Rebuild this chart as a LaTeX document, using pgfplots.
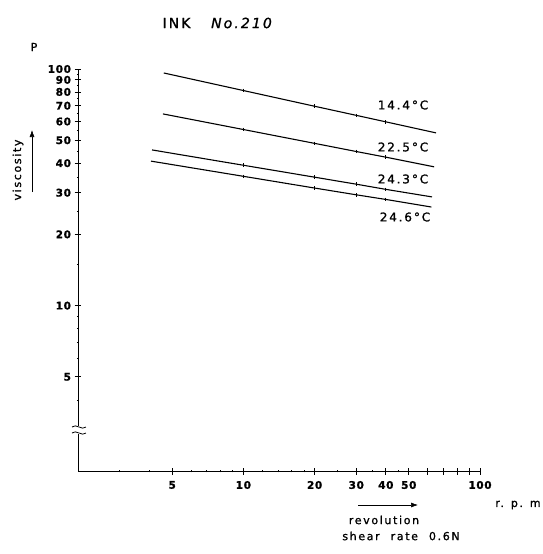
\documentclass[border=0pt]{standalone}
\usepackage{fontspec}
\setmainfont{DejaVu Sans}[LetterSpace=6, FakeBold=1.2]
\newfontfamily\labfont{DejaVu Sans}[LetterSpace=15, FakeBold=1.2]
\usepackage{pgfplots}
\pgfplotsset{compat=1.18}
\usetikzlibrary{arrows.meta}
\begin{document}
\begin{tikzpicture}
\path[use as bounding box] (0pt,0pt) rectangle (542pt,-554pt);
\begin{axis}[at={(78pt,-471pt)}, anchor=south west, scale only axis,
  width=402pt, height=402pt,
  xmode=log, ymode=log, xmin=2, xmax=100, ymin=2, ymax=100,
  axis lines=left, axis line style={-, line width=0.9pt},
  xtick={5,10,20,30,40,50,60,70,80,90,100},
  xticklabels={5,10,20,30,40,50,,,,,100},
  ytick={5,10,20,30,40,50,60,70,80,90,100},
  yticklabels={5,10,20,30,40,50,60,70,80,90,100},
  minor xtick={3,4,6,7,8,9,12,14,16,18,25,35,45},
  minor ytick={4,6,7,8,9,15,25,35,45,55,65,75,85,95},
  tick align=center, major tick length=7pt, minor tick length=2.5pt,
  major tick style={black, line width=0.7pt},
  minor tick style={black, line width=0.5pt},
  /pgf/number format/assume math mode=true,
  ticklabel style={font=\bfseries\fontsize{10.5}{11}\selectfont},
  xticklabel style={yshift=-3pt},
  clip=false,
]
\addplot[black, line width=1.1pt, mark=|, mark size=1.8pt, mark indices={2,3,4,5}]
  coordinates {(4.61,96.2) (10,81.1) (20,69.6) (30,63.7) (40,59.8) (65.2,53.7)};
\addplot[black, line width=1.1pt, mark=|, mark size=1.8pt, mark indices={2,3,4,5}]
  coordinates {(4.57,64.6) (10,55.5) (20,48.5) (30,44.8) (40,42.4) (64,38.6)};
\addplot[black, line width=1.1pt, mark=|, mark size=1.8pt, mark indices={2,3,4,5}]
  coordinates {(4.11,45.5) (10,39.2) (20,34.9) (30,32.6) (40,31.0) (62.7,28.8)};
\addplot[black, line width=1.1pt, mark=|, mark size=1.8pt, mark indices={2,3,4,5}]
  coordinates {(4.07,40.8) (10,35.2) (20,31.4) (30,29.4) (40,28.1) (62.3,26.1)};
\end{axis}
% axis break
\fill[white] (72pt,-426pt) rectangle (86pt,-434pt);
\draw[line width=0.8pt] (72pt,-427pt) .. controls (76pt,-423pt) and (82pt,-431pt) .. (86pt,-427pt);
\draw[line width=0.8pt] (72pt,-433pt) .. controls (76pt,-429pt) and (82pt,-437pt) .. (86pt,-433pt);
% title
\node[font=\labfont\fontsize{14}{16}\selectfont] at (176.5pt,-23pt) {INK};
\node[font=\labfont\itshape\fontsize{14}{16}\selectfont] at (241.5pt,-23pt) {No.210};
% y label
\node[font=\labfont\fontsize{11}{13}\selectfont] at (34pt,-47pt) {P};
\node[rotate=90, font=\labfont\fontsize{11}{13}\selectfont] at (18pt,-170pt) {viscosity};
\draw[line width=0.6pt, -{Latex[length=7pt,width=5pt]}] (32pt,-192pt) -- (32pt,-130pt);
% series labels
\node[font=\labfont\fontsize{12}{14}\selectfont] at (403pt,-105pt) {14.4\,°C};
\node[font=\labfont\fontsize{12}{14}\selectfont] at (403pt,-147pt) {22.5\,°C};
\node[font=\labfont\fontsize{12}{14}\selectfont] at (403pt,-179pt) {24.3\,°C};
\node[font=\labfont\fontsize{12}{14}\selectfont] at (405pt,-217pt) {24.6\,°C};
% x labels
\node[font=\labfont\fontsize{11}{13}\selectfont] at (518pt,-505pt) {r. p. m};
\draw[line width=0.6pt, -{Latex[length=7pt,width=5pt]}] (358pt,-505pt) -- (418pt,-505pt);
\node[font=\labfont\fontsize{11}{13}\selectfont] at (384pt,-520pt) {revolution};
\node[font=\labfont\fontsize{11}{13}\selectfont] at (401pt,-536pt) {shear\quad rate\quad 0.6N};
\end{tikzpicture}
\end{document}
